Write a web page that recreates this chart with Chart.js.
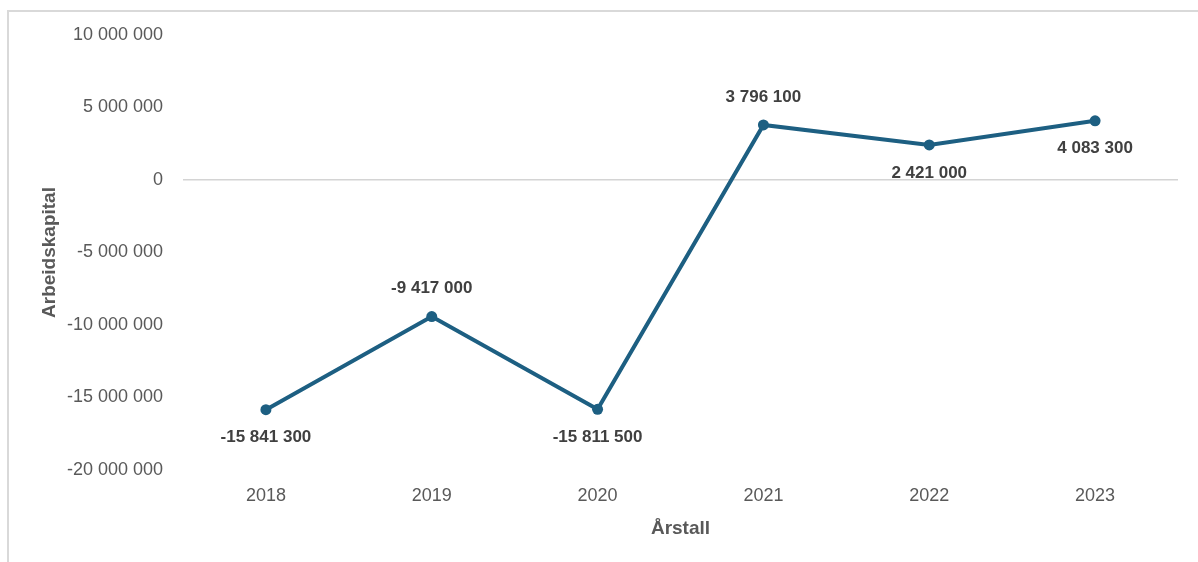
<!DOCTYPE html>
<html lang="no">
<head>
<meta charset="utf-8">
<title>Arbeidskapital per årstall</title>
<script src="https://cdn.jsdelivr.net/npm/chart.js@4/dist/chart.umd.min.js"></script>
<style>
  html, body { margin: 0; padding: 0; background: #ffffff; overflow: hidden; }
  #wrap { position: relative; width: 1198px; height: 562px; }
  #frame {
    position: absolute; left: 7px; top: 10px; right: -4px; bottom: -4px;
    border-left: 2px solid #d9d9d9; border-top: 2px solid #d9d9d9;
    pointer-events: none;
  }
  canvas { position: absolute; left: 0; top: 0; }
</style>
</head>
<body>
<div id="wrap">
  <div id="frame"></div>
  <canvas id="chart" width="1198" height="562"></canvas>
</div>
<script>
// Årstall og arbeidskapital (kr)
const years = ['2018', '2019', '2020', '2021', '2022', '2023'];
const workingCapital = [-15841300, -9417000, -15811500, 3796100, 2421000, 4083300];
// Hvor verdietiketten står i forhold til punktet
const labelSide = ['below', 'above', 'below', 'above', 'below', 'below'];
// Y-aksens verdier, nedenfra og opp
const yTicks = [-20000000, -15000000, -10000000, -5000000, 0, 5000000, 10000000];

const FONT = '"Liberation Sans", Arial, sans-serif';
const LINE_COLOR = '#1d5f82';

function formatNumber(v) {
  const abs = Math.abs(Math.round(v)).toString().replace(/\B(?=(\d{3})+(?!\d))/g, ' ');
  return (v < 0 ? '-' : '') + abs;
}

const valueLabels = {
  id: 'valueLabels',
  afterDatasetsDraw(chart) {
    const ctx = chart.ctx;
    const meta = chart.getDatasetMeta(0);
    ctx.save();
    ctx.font = 'bold 17px ' + FONT;
    ctx.fillStyle = '#404040';
    ctx.textAlign = 'center';
    ctx.textBaseline = 'middle';
    meta.data.forEach((pt, i) => {
      const dy = labelSide[i] === 'above' ? -28 : 28;
      ctx.fillText(formatNumber(workingCapital[i]), pt.x, pt.y + dy);
    });
    ctx.restore();
  }
};

new Chart(document.getElementById('chart'), {
  type: 'line',
  data: {
    labels: years,
    datasets: [{
      data: workingCapital,
      borderColor: LINE_COLOR,
      backgroundColor: LINE_COLOR,
      borderWidth: 4,
      pointRadius: 5.5,
      pointBorderWidth: 0,
      pointBackgroundColor: LINE_COLOR,
      tension: 0,
      fill: false
    }]
  },
  options: {
    responsive: false,
    animation: false,
    devicePixelRatio: 1,
    layout: { padding: { top: 35, right: 20, bottom: 22, left: 30 } },
    plugins: {
      legend: { display: false },
      tooltip: { enabled: false }
    },
    scales: {
      x: {
        offset: true,
        afterFit(scale) { scale.height = 70; },
        grid: { display: false, drawTicks: false },
        border: { display: false },
        ticks: {
          color: '#595959',
          font: { family: FONT, size: 18 },
          padding: 15
        },
        title: {
          display: true,
          text: 'Årstall',
          color: '#595959',
          font: { family: FONT, size: 19, weight: 'bold' },
          padding: { top: 0, bottom: 0 }
        }
      },
      y: {
        min: -20000000,
        max: 10000000,
        afterBuildTicks(scale) {
          scale.ticks = yTicks.map(v => ({ value: v }));
        },
        afterFit(scale) { scale.width = 153; },
        grid: {
          drawTicks: false,
          lineWidth: 1.5,
          color: ctx => (ctx.tick && ctx.tick.value === 0) ? '#d4d4d4' : 'rgba(0,0,0,0)'
        },
        border: { display: false },
        ticks: {
          color: '#595959',
          font: { family: FONT, size: 18 },
          padding: 20,
          callback: v => formatNumber(v)
        },
        title: {
          display: true,
          text: 'Arbeidskapital',
          color: '#595959',
          font: { family: FONT, size: 19, weight: 'bold' },
          padding: { top: 8, bottom: 0 }
        }
      }
    }
  },
  plugins: [valueLabels]
});
</script>
</body>
</html>
